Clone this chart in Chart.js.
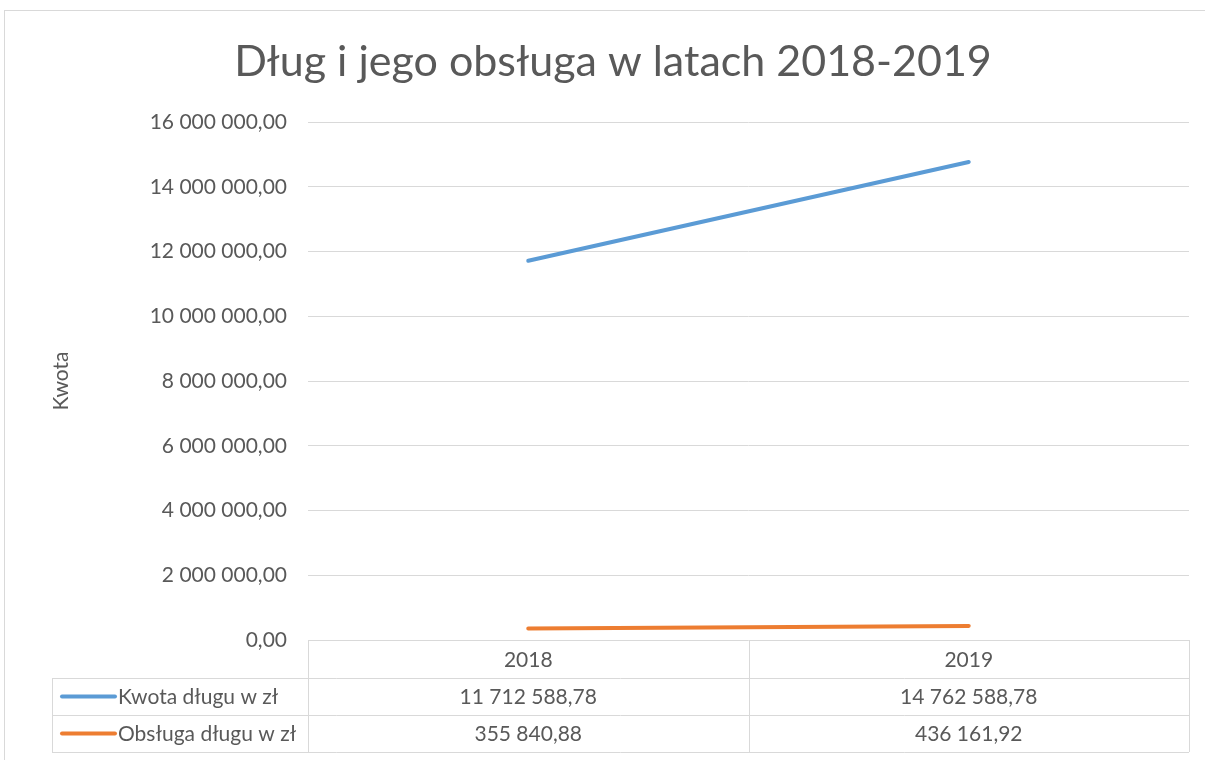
<!DOCTYPE html>
<html>
<head>
<meta charset="utf-8">
<script src="https://cdn.jsdelivr.net/npm/chart.js@4/dist/chart.umd.min.js"></script>
<style>
  html, body { margin: 0; padding: 0; background: #ffffff; }
  #wrap { position: relative; width: 1205px; height: 760px; }
</style>
</head>
<body>
<div id="wrap"><canvas id="c" width="1205" height="760"></canvas></div>
<script>
const categories = ['2018', '2019'];
const seriesNames = ['Kwota długu w zł', 'Obsługa długu w zł'];
const kwotaDlugu = [11712588.78, 14762588.78];
const obslugaDlugu = [355840.88, 436161.92];
const seriesColors = ['#5B9BD5', '#ED7D31'];
const titleText = 'Dług i jego obsługa w latach 2018-2019';
const yTitle = 'Kwota';
const yMin = 0, yMax = 16000000, yStep = 2000000;

const FONT = 'Lato, "Open Sans", sans-serif';
const TXT = '#595959';
const GRID = '#D9D9D9';

function fmtPL(v) {
  const s = Math.abs(v).toFixed(2);
  const [ip, dp] = s.split('.');
  const grouped = ip.replace(/\B(?=(\d{3})+(?!\d))/g, ' ');
  return (v < 0 ? '-' : '') + grouped + ',' + dp;
}

const frameAndTable = {
  id: 'frameAndTable',
  beforeDraw(chart) {
    const ctx = chart.ctx;
    ctx.save();
    ctx.strokeStyle = GRID;
    ctx.lineWidth = 1;
    ctx.strokeRect(4.5, 10.5, 1400, 900);
    // chart title
    ctx.fillStyle = TXT;
    ctx.font = '43px ' + FONT;
    ctx.textAlign = 'center';
    ctx.textBaseline = 'middle';
    ctx.fillText(titleText, 613, 62);
    ctx.restore();
  },
  afterDraw(chart) {
    const ctx = chart.ctx;
    const xs = chart.scales.x;
    const area = chart.chartArea;
    const left = area.left, right = area.right, bottom = area.bottom;
    const headerH = 38, rowH = 37;
    const tableLeft = 52;
    ctx.save();
    ctx.strokeStyle = GRID;
    ctx.lineWidth = 1;
    const n = categories.length;
    const colW = (right - left) / n;
    ctx.beginPath();
    for (let i = 0; i <= n; i++) {
      const x = Math.round(left + i * colW) + 0.5;
      ctx.moveTo(x, bottom);
      ctx.lineTo(x, bottom + headerH + rowH * seriesNames.length);
    }
    ctx.moveTo(tableLeft + 0.5, bottom + headerH);
    ctx.lineTo(tableLeft + 0.5, bottom + headerH + rowH * seriesNames.length);
    for (let r = 0; r <= seriesNames.length; r++) {
      const y = Math.round(bottom + headerH + r * rowH) + 0.5;
      ctx.moveTo(tableLeft, y);
      ctx.lineTo(right, y);
    }
    ctx.stroke();

    ctx.fillStyle = TXT;
    ctx.font = '21px ' + FONT;
    ctx.textBaseline = 'middle';
    ctx.textAlign = 'center';
    categories.forEach((c, i) => {
      ctx.fillText(c, xs.getPixelForValue(i), bottom + headerH / 2 + 1);
    });
    const datasets = chart.data.datasets;
    datasets.forEach((ds, r) => {
      const yc = bottom + headerH + r * rowH + rowH / 2 + 1;
      ctx.font = '21px ' + FONT;
      ds.data.forEach((v, i) => {
        ctx.textAlign = 'center';
        ctx.fillStyle = TXT;
        ctx.fillText(fmtPL(v), xs.getPixelForValue(i), yc);
      });
      ctx.strokeStyle = ds.borderColor;
      ctx.lineWidth = 4;
      ctx.lineCap = 'round';
      ctx.beginPath();
      ctx.moveTo(62, yc - 1);
      ctx.lineTo(115, yc - 1);
      ctx.stroke();
      ctx.font = '21px ' + FONT;
      ctx.textAlign = 'left';
      ctx.fillStyle = TXT;
      ctx.fillText(ds.label, 118, yc);
    });
    ctx.restore();
  }
};

new Chart(document.getElementById('c'), {
  type: 'line',
  data: {
    labels: categories,
    datasets: [
      { label: seriesNames[0], data: kwotaDlugu, borderColor: seriesColors[0], backgroundColor: seriesColors[0], borderWidth: 4, pointRadius: 0, tension: 0, borderCapStyle: 'round' },
      { label: seriesNames[1], data: obslugaDlugu, borderColor: seriesColors[1], backgroundColor: seriesColors[1], borderWidth: 4, pointRadius: 0, tension: 0, borderCapStyle: 'round' }
    ]
  },
  options: {
    responsive: false,
    animation: false,
    devicePixelRatio: 1,
    layout: { padding: { left: 0, right: 16, top: 122, bottom: 8 } },
    plugins: {
      legend: { display: false },
      tooltip: { enabled: false },
      title: { display: false }
    },
    scales: {
      x: {
        type: 'category',
        offset: true,
        grid: { display: false, drawTicks: false },
        border: { display: false },
        ticks: { display: false },
        afterFit(scale) { scale.height = 112; }
      },
      y: {
        min: yMin, max: yMax,
        ticks: {
          stepSize: yStep,
          color: TXT,
          padding: 21,
          font: { family: FONT, size: 21 },
          callback: (v) => fmtPL(v)
        },
        grid: { color: GRID, drawTicks: false, lineWidth: 1 },
        border: { display: false },
        title: {
          display: true,
          text: yTitle,
          color: TXT,
          font: { family: FONT, size: 21 },
          padding: { top: 49, bottom: 0 }
        },
        afterFit(scale) { scale.width = 308; }
      }
    }
  },
  plugins: [frameAndTable]
});
</script>
</body>
</html>
